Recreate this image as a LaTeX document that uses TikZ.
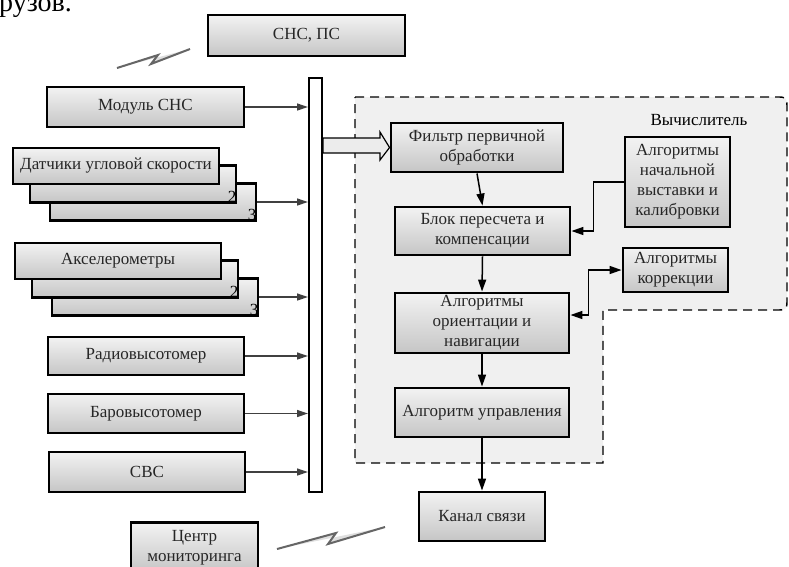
\documentclass[tikz,border=0pt]{standalone}
\usepackage{fontspec}
\setmainfont{Liberation Serif}
\usetikzlibrary{arrows.meta,calc}
\newcommand\boxfont{\fontsize{17}{20}\selectfont}
\begin{document}
\begin{tikzpicture}[x=1pt,y=-1pt,
  box/.style={draw=black, line width=2.9pt, top color=gray!10, bottom color=gray!45,
    align=center, inner sep=1pt, font=\boxfont, text=black!85},
  inarr/.style={draw=black!75, line width=1.3pt, -{Triangle[length=11pt,width=7pt]}},
  arr/.style={draw=black, line width=1.5pt, -{Triangle[length=12pt,width=8pt]}},
  bolt/.style={draw=black!60, line width=2pt, line join=miter, fill=gray!25},
  num/.style={font=\boxfont, inner sep=1pt, anchor=south east}]
\useasboundingbox (0,0) rectangle (789,566);

% page fragment
\node[anchor=base west, inner sep=0pt, font=\fontsize{28}{30}\selectfont] (frag) at (-1,11) {рузов.};

% computer region
\draw[dash pattern=on 9pt off 6pt, line width=1.4pt, fill=gray!12]
  (355,97) -- (776,97) .. controls (787,97) .. (787,110) -- (787,298)
  .. controls (787,310) .. (775,310) -- (603,310) -- (603,463) -- (355,463) -- cycle;
\node[font=\boxfont] (vych) at (699,120) {Вычислитель};

% top
\node[box, minimum width=197, minimum height=41] (snsps) at (306.5,35.5) {СНС, ПС};
\draw[bolt] (117,68) -- (158,55) -- (151,64) -- (190,49);

% bus
\node[draw=black, line width=2pt, fill=white, minimum width=13, minimum height=414, inner sep=0pt] (bus) at (315.5,285) {};

% left sources
\node[box, minimum width=197, minimum height=40] (modul) at (145.5,107) {Модуль СНС};

\node[box, minimum width=206, minimum height=37] (dus3) at (153,202) {};
\node[num] at (dus3.south east) {3};
\node[box, minimum width=206, minimum height=37] (dus2) at (133,184) {};
\node[num] at (dus2.south east) {2};
\node[box, minimum width=206, minimum height=36] (dus1) at (116,166) {Датчики угловой скорости};

\node[box, minimum width=206, minimum height=37] (acc3) at (155,297) {};
\node[num] at (acc3.south east) {3};
\node[box, minimum width=206, minimum height=37] (acc2) at (135,279) {};
\node[num] at (acc2.south east) {2};
\node[box, minimum width=206, minimum height=36] (acc1) at (118,261) {Акселерометры};

\node[box, minimum width=196, minimum height=38] (radio) at (146,356) {Радиовысотомер};
\node[box, minimum width=196, minimum height=39] (baro) at (146,413.5) {Баровысотомер};
\node[box, minimum width=196, minimum height=40] (svs) at (147,472) {СВС};

\foreach \n in {modul,dus3,acc3,radio,baro,svs}
  \draw[inarr] (\n.east) -- (\n.east -| bus.west);

% bottom
\node[box, minimum width=127, minimum height=50, anchor=north] (centr) at (194.5,521) {Центр\\мониторинга};
\draw[bolt] (277,549) -- (336,533) -- (328,544) -- (385,527);

% right chain
\node[box, minimum width=172, minimum height=49] (filtr) at (477,147.5) {Фильтр первичной\\обработки};
\node[box, minimum width=175, minimum height=48] (blok) at (482.5,231) {Блок пересчета и\\компенсации};
\node[box, minimum width=174, minimum height=60] (orient) at (482,323) {Алгоритмы\\ориентации и\\навигации};
\node[box, minimum width=174, minimum height=49] (upr) at (482,412.5) {Алгоритм управления};
\node[box, minimum width=126, minimum height=49] (kanal) at (482,516.5) {Канал связи};
\node[box, minimum width=105, minimum height=90] (nach) at (677.5,182) {Алгоритмы\\начальной\\выставки и\\калибровки};
\node[box, minimum width=105, minimum height=44] (korr) at (675.5,270) {Алгоритмы\\коррекции};

% hollow arrow from bus to filter
\draw[line width=1.2pt, fill=gray!15, line join=miter]
  (bus.east |- 0,138) -- (380,138) -- (380,132) -- (filtr.west) -- (380,160) -- (380,153) -- (bus.east |- 0,153) -- cycle;

\draw[arr] (filtr.south) -- (blok.north);
\draw[arr] (blok.south) -- (orient.north);
\draw[arr] (orient.south) -- (upr.north);
\draw[arr] (upr.south) -- (kanal.north);
\draw[arr] (nach.west) -- ++(-30,0) |- (blok.east);
\draw[arr, {Triangle[length=12pt,width=8pt]}-{Triangle[length=12pt,width=8pt]}]
  ($(orient.east)+(0,-8)$) -- ++(18,0) |- (korr.west);
\end{tikzpicture}
\end{document}
